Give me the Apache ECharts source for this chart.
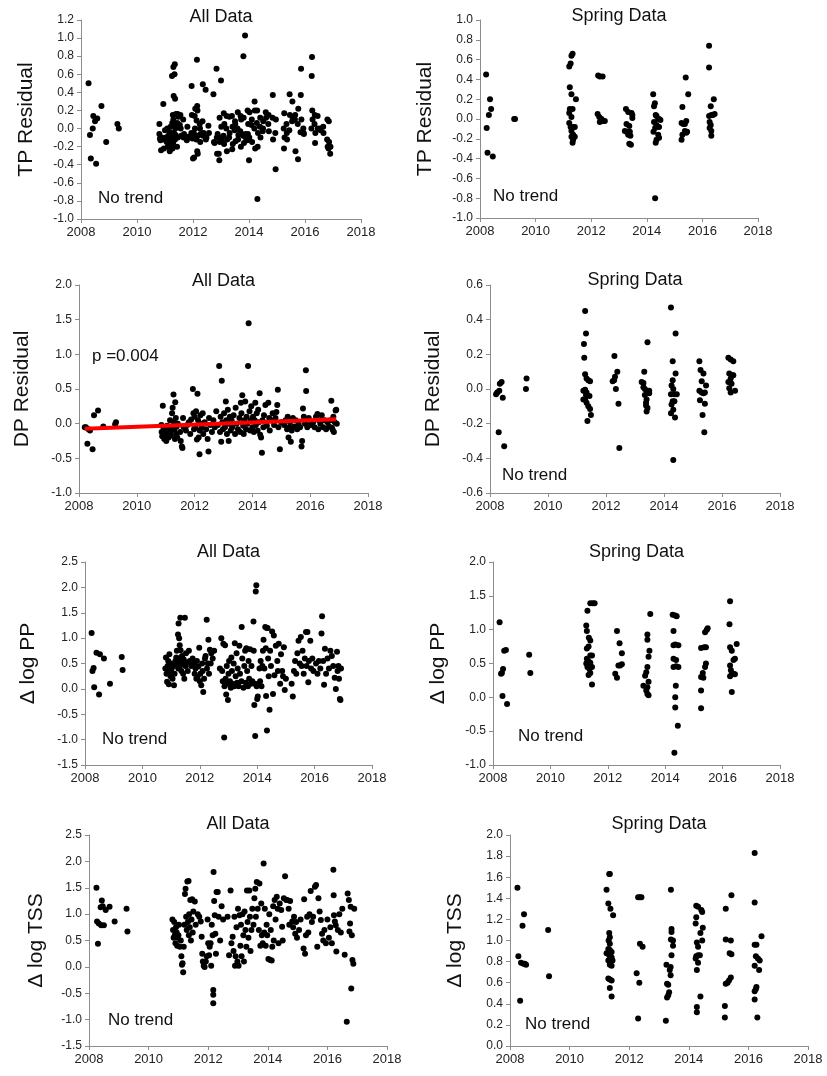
<!DOCTYPE html>
<html>
<head>
<meta charset="utf-8">
<title>Residual trends</title>
<script src="https://cdn.jsdelivr.net/npm/echarts@6/dist/echarts.min.js"></script>
<style>
html, body {margin: 0; padding: 0; background: #fff;}
#chart {width: 827px; height: 1076px;}
</style>
</head>
<body>
<div id="chart"></div>
<script>
// sample date (decimal year), value
var tpAll = [
[2008.27,0.50],[2008.32,-0.07],[2008.35,-0.33],[2008.42,0.00],[2008.44,0.14],[2008.50,0.08],[2008.58,0.11],[2008.54,-0.39],[2008.73,0.25],[2008.90,-0.15],[2009.30,0.05],[2009.35,0.00],
[2010.80,0.05],[2010.80,-0.06],[2010.82,-0.11],[2010.84,-0.13],[2010.86,-0.24],[2010.88,-0.10],[2010.94,0.27],[2010.96,-0.22],[2010.97,-0.12],[2011.00,-0.02],
[2011.04,-0.10],[2011.06,-0.15],[2011.08,0.00],[2011.10,-0.20],[2011.12,-0.08],[2011.15,-0.14],[2011.17,-0.25],[2011.18,-0.04],[2011.20,0.02],[2011.22,-0.18],
[2011.25,0.58],[2011.26,0.06],[2011.24,-0.10],[2011.27,-0.22],[2011.28,0.15],[2011.26,-0.12],
[2011.30,0.68],[2011.31,0.36],[2011.30,0.10],[2011.32,-0.05],[2011.29,-0.16],[2011.33,0.04],
[2011.35,0.71],[2011.34,0.60],[2011.36,0.33],[2011.37,0.00],[2011.36,-0.12],[2011.38,-0.07],[2011.39,0.16],
[2011.45,0.16],[2011.44,0.06],[2011.46,-0.10],[2011.43,-0.20],[2011.48,0.13],
[2011.55,0.15],[2011.56,0.00],[2011.58,-0.08],[2011.53,0.04],
[2011.65,0.10],[2011.66,-0.10],[2011.68,-0.06],
[2011.78,-0.13],[2011.80,0.02],[2011.83,-0.09],[2011.85,-0.10],
[2011.95,0.47],[2011.96,0.15],[2011.94,-0.05],[2011.98,-0.11],[2012.00,-0.33],
[2012.04,-0.32],[2012.05,-0.10],[2012.06,0.14],[2012.07,0.00],[2012.03,-0.05],[2012.08,0.22],
[2012.14,0.76],[2012.15,0.25],[2012.16,0.20],[2012.15,-0.25],[2012.17,-0.28],[2012.13,0.09],[2012.18,-0.08],[2012.12,-0.12],
[2012.24,0.05],[2012.25,0.00],[2012.26,-0.15],[2012.27,-0.06],
[2012.35,0.49],[2012.34,0.08],[2012.36,-0.08],[2012.38,-0.05],
[2012.45,0.43],[2012.46,-0.12],[2012.48,-0.10],
[2012.55,0.03],[2012.57,-0.05],
[2012.73,0.38],[2012.75,-0.15],[2012.77,-0.16],
[2012.84,0.66],[2012.85,-0.10],[2012.86,-0.28],[2012.88,-0.06],
[2012.94,-0.35],[2012.95,0.12],[2012.96,-0.15],[2012.92,-0.28],
[2013.00,0.53],[2013.01,0.02],[2013.02,-0.10],[2013.03,-0.13],
[2013.10,0.17],[2013.11,-0.17],[2013.12,0.05],[2013.09,-0.08],
[2013.20,0.14],[2013.21,-0.25],[2013.22,-0.12],[2013.19,0.00],
[2013.30,0.13],[2013.31,-0.05],[2013.29,-0.10],
[2013.40,-0.23],[2013.41,0.02],[2013.39,0.14],[2013.42,-0.17],
[2013.50,0.08],[2013.51,0.05],[2013.49,-0.02],[2013.52,-0.14],
[2013.60,0.18],[2013.61,-0.12],[2013.59,0.00],[2013.62,-0.07],
[2013.70,0.14],[2013.71,-0.20],[2013.69,-0.03],[2013.72,0.10],
[2013.80,0.80],[2013.81,0.12],[2013.79,-0.08],[2013.82,-0.16],
[2013.86,1.03],[2013.87,-0.06],[2013.88,-0.10],
[2013.95,0.20],[2013.96,-0.06],[2013.94,-0.13],[2013.97,0.05],
[2014.00,-0.35],[2014.01,-0.10],[2014.02,0.18],
[2014.10,0.10],[2014.11,-0.15],[2014.09,0.04],
[2014.20,0.30],[2014.21,0.20],[2014.19,0.00],[2014.22,-0.22],
[2014.30,-0.78],[2014.29,0.20],[2014.31,-0.20],[2014.28,0.06],[2014.32,-0.05],
[2014.40,0.12],[2014.41,-0.10],[2014.39,0.02],
[2014.50,0.00],[2014.51,0.08],[2014.49,-0.03],
[2014.60,0.18],[2014.61,0.12],
[2014.70,0.15],[2014.71,-0.03],[2014.69,0.05],
[2014.85,0.37],[2014.86,-0.12],[2014.84,0.12],
[2014.95,-0.45],[2014.96,0.10],[2014.94,-0.05],
[2015.25,-0.22],[2015.26,0.17],[2015.24,0.00],[2015.27,-0.10],
[2015.35,-0.05],[2015.36,-0.12],[2015.34,0.05],
[2015.45,0.38],[2015.46,0.15],[2015.44,-0.02],
[2015.55,0.30],[2015.56,0.12],[2015.54,0.08],
[2015.65,0.15],[2015.66,-0.25],[2015.64,0.10],
[2015.75,-0.34],[2015.76,0.22],[2015.74,0.05],
[2015.85,0.37],[2015.86,0.66],[2015.84,-0.04],[2015.87,0.10],
[2015.95,-0.05],[2015.96,-0.06],[2015.94,0.00],
[2016.25,0.79],[2016.24,0.58],[2016.26,0.20],[2016.23,0.00],[2016.27,0.10],
[2016.35,0.15],[2016.36,-0.16],[2016.34,0.05],[2016.37,-0.05],
[2016.45,0.14],[2016.46,0.00],
[2016.55,0.00],[2016.56,-0.02],
[2016.65,0.02],[2016.66,-0.05],
[2016.80,0.10],[2016.79,-0.12],[2016.81,-0.20],
[2016.85,0.08],[2016.86,-0.15],[2016.84,-0.22],
[2016.90,-0.28],[2016.91,-0.20]
];

var tpSpring = [
[2008.22,0.45],[2008.24,-0.09],[2008.27,-0.34],[2008.32,0.04],[2008.36,0.20],[2008.40,0.10],[2008.46,-0.38],[2009.23,0.00],[2009.26,0.00],
[2011.21,0.53],[2011.26,0.56],[2011.29,0.64],[2011.33,0.66],[2011.23,0.32],[2011.29,0.25],[2011.45,0.20],[2011.23,0.10],[2011.33,0.10],[2011.21,0.06],[2011.29,0.02],[2011.21,-0.04],[2011.26,-0.08],[2011.35,-0.08],[2011.41,-0.08],[2011.29,-0.12],[2011.35,-0.16],[2011.29,-0.18],[2011.35,-0.21],[2011.33,-0.24],[2011.41,-0.18],
[2012.25,0.44],[2012.31,0.43],[2012.41,0.43],[2012.23,0.05],[2012.29,0.02],[2012.31,-0.03],[2012.37,0.00],[2012.43,-0.02],[2012.49,-0.02],
[2013.25,0.10],[2013.33,0.07],[2013.45,0.06],[2013.48,0.04],[2013.21,-0.12],[2013.27,-0.05],[2013.37,-0.07],[2013.39,-0.13],[2013.33,-0.16],[2013.41,-0.17],[2013.37,-0.25],[2013.43,-0.26],[2013.27,-0.13],[2013.48,0.01],
[2014.23,0.25],[2014.29,0.16],[2014.26,0.13],[2014.32,0.04],[2014.35,0.03],[2014.41,0.00],[2014.44,0.00],[2014.26,-0.03],[2014.35,-0.06],[2014.30,-0.09],[2014.24,-0.13],[2014.44,-0.08],[2014.41,-0.16],[2014.44,-0.19],[2014.35,-0.21],[2014.32,-0.24],[2014.30,-0.80],[2014.49,-0.01],
[2015.28,0.12],[2015.40,0.42],[2015.49,0.25],[2015.25,-0.04],[2015.31,-0.05],[2015.37,-0.05],[2015.42,-0.02],[2015.37,-0.12],[2015.45,-0.13],[2015.28,-0.16],[2015.42,-0.14],[2015.25,-0.21],
[2016.24,0.74],[2016.24,0.52],[2016.30,0.13],[2016.41,0.20],[2016.24,0.03],[2016.32,0.04],[2016.38,0.04],[2016.44,0.05],[2016.26,-0.03],[2016.30,-0.06],[2016.26,-0.09],[2016.32,-0.12],[2016.32,-0.17]
];

var dpAll = [
[2008.20,-0.05],[2008.24,-0.05],[2008.29,-0.29],[2008.33,-0.08],[2008.38,-0.10],[2008.47,-0.37],[2008.52,0.12],[2008.66,0.19],[2008.84,-0.04],[2009.25,-0.01],[2009.28,0.02],
[2010.85,-0.02],[2010.86,-0.12],[2010.88,-0.18],[2010.90,0.26],[2010.92,-0.05],[2010.95,-0.22],[2010.97,-0.08],[2011.00,-0.15],[2011.02,-0.25],[2011.05,-0.03],[2011.07,-0.12],[2011.10,-0.20],[2011.12,-0.06],[2011.15,0.05],
[2011.18,-0.17],[2011.20,-0.10],[2011.22,0.15],[2011.24,0.23],[2011.27,0.42],[2011.28,0.02],[2011.30,-0.08],[2011.32,-0.22],[2011.33,0.31],[2011.35,0.08],[2011.36,-0.15],[2011.38,-0.04],[2011.40,-0.20],[2011.42,0.00],
[2011.50,-0.12],[2011.52,-0.25],[2011.56,-0.33],[2011.58,-0.35],[2011.60,0.08],[2011.62,-0.05],[2011.70,-0.10],[2011.75,-0.02],[2011.80,0.02],[2011.85,-0.15],[2011.88,0.06],
[2011.94,0.50],[2011.96,0.15],[2011.98,-0.08],[2012.00,0.10],[2012.03,-0.05],[2012.05,0.18],[2012.08,-0.23],[2012.10,0.43],[2012.12,0.05],[2012.14,-0.20],[2012.17,-0.44],[2012.18,-0.10],[2012.20,0.12],[2012.22,0.00],[2012.25,-0.06],[2012.28,0.15],[2012.30,-0.15],[2012.35,0.02],
[2012.40,-0.08],[2012.45,-0.22],[2012.48,-0.40],[2012.50,0.08],[2012.55,-0.02],[2012.60,-0.12],[2012.65,0.05],[2012.70,-0.05],[2012.75,0.18],
[2012.80,-0.02],[2012.85,0.83],[2012.88,-0.12],[2012.90,0.10],[2012.92,-0.26],[2012.94,0.62],[2012.96,0.02],[2012.98,-0.08],[2013.02,0.15],[2013.05,-0.05],[2013.08,0.32],[2013.10,0.05],[2013.12,-0.15],[2013.15,0.20],[2013.18,-0.25],[2013.20,0.00],[2013.22,0.10],[2013.25,-0.10],[2013.28,0.05],
[2013.30,-0.05],[2013.35,0.12],[2013.40,-0.15],[2013.42,0.23],[2013.45,0.00],[2013.50,-0.08],[2013.55,0.08],[2013.58,-0.12],[2013.60,0.30],[2013.62,0.15],[2013.65,0.41],[2013.68,-0.03],[2013.70,-0.15],[2013.72,0.05],[2013.75,0.32],[2013.78,-0.08],
[2013.80,0.10],[2013.82,0.00],[2013.85,0.83],[2013.87,1.45],[2013.90,0.18],[2013.92,-0.10],[2013.94,0.05],[2013.96,0.25],[2014.00,-0.05],[2014.02,0.10],[2014.05,-0.12],[2014.08,0.05],[2014.10,0.30],[2014.12,-0.02],
[2014.15,0.15],[2014.18,-0.10],[2014.20,0.20],[2014.22,0.02],[2014.25,0.44],[2014.27,-0.16],[2014.30,-0.20],[2014.33,-0.42],[2014.35,0.05],[2014.38,-0.05],[2014.40,0.12],[2014.45,0.27],[2014.50,-0.03],[2014.55,0.30],[2014.58,0.08],[2014.60,-0.10],[2014.65,0.05],
[2014.70,0.15],[2014.75,-0.02],[2014.80,0.08],[2014.83,0.17],[2014.86,0.27],[2014.88,0.49],[2014.90,-0.05],[2014.95,-0.37],[2015.00,0.02],
[2015.10,-0.02],[2015.15,0.05],[2015.20,-0.08],[2015.22,0.10],[2015.25,-0.20],[2015.28,-0.05],[2015.30,0.02],[2015.33,-0.26],[2015.36,-0.10],[2015.40,0.08],[2015.45,-0.04],[2015.50,0.05],[2015.55,-0.08],[2015.60,0.00],
[2015.65,-0.05],[2015.70,-0.33],[2015.72,-0.25],[2015.75,0.22],[2015.78,0.10],[2015.82,0.00],[2015.85,0.77],[2015.86,0.47],[2015.88,0.05],[2015.90,-0.05],[2015.95,0.08],[2016.00,-0.02],
[2016.10,0.02],[2016.15,-0.05],[2016.20,0.10],[2016.25,0.14],[2016.28,-0.08],[2016.30,0.05],[2016.35,0.00],[2016.40,0.12],[2016.45,-0.05],[2016.50,0.05],[2016.55,-0.08],[2016.60,0.02],[2016.65,-0.04],
[2016.70,0.05],[2016.73,0.33],[2016.75,-0.06],[2016.78,-0.09],[2016.80,0.10],[2016.82,-0.12],[2016.85,0.02],[2016.88,0.19],[2016.90,0.20],[2016.92,0.00]
];

// fitted trend for DP, end points only
var dpTrend = [[2008.2,-0.075],[2016.9,0.065]];

var dpSpring = [
[2008.21,-0.03],[2008.25,-0.02],[2008.32,-0.01],[2008.34,0.03],[2008.40,0.04],[2008.44,-0.05],[2008.30,-0.25],[2008.49,-0.33],
[2009.26,0.06],[2009.24,0.00],
[2011.28,0.45],[2011.31,0.32],[2011.24,0.26],[2011.25,0.18],[2011.28,0.085],[2011.33,0.06],[2011.39,0.05],[2011.45,0.045],[2011.22,-0.01],[2011.28,-0.005],[2011.33,-0.02],[2011.31,-0.035],[2011.22,-0.06],[2011.28,-0.06],[2011.33,-0.08],[2011.39,-0.10],[2011.45,-0.115],[2011.36,-0.185],[2011.48,-0.15],[2011.43,-0.04],
[2012.29,0.19],[2012.23,0.045],[2012.28,0.05],[2012.31,0.07],[2012.39,0.10],[2012.34,0.00],[2012.43,-0.085],[2012.46,-0.34],
[2013.32,0.10],[2013.43,0.27],[2013.23,0.04],[2013.29,0.035],[2013.34,0.00],[2013.40,-0.01],[2013.46,-0.02],[2013.49,-0.01],[2013.29,0.01],[2013.34,-0.035],[2013.40,-0.06],[2013.38,-0.08],[2013.43,-0.11],[2013.40,-0.13],[2013.49,-0.025],[2013.38,-0.095],
[2014.24,0.47],[2014.40,0.32],[2014.30,0.16],[2014.40,0.09],[2014.30,0.05],[2014.26,0.02],[2014.32,0.00],[2014.24,-0.03],[2014.36,-0.03],[2014.44,-0.03],[2014.30,-0.07],[2014.36,-0.07],[2014.26,-0.09],[2014.32,-0.12],[2014.24,-0.14],[2014.38,-0.165],[2014.32,-0.41],
[2015.22,0.16],[2015.26,0.11],[2015.36,0.09],[2015.30,0.045],[2015.45,0.02],[2015.22,-0.01],[2015.36,-0.025],[2015.41,-0.02],[2015.24,-0.065],[2015.41,-0.085],[2015.33,-0.15],[2015.39,-0.25],[2015.30,-0.02],
[2016.22,0.18],[2016.30,0.17],[2016.39,0.16],[2016.25,0.09],[2016.37,0.08],[2016.30,0.06],[2016.22,0.04],[2016.33,0.03],[2016.25,0.005],[2016.30,-0.02],[2016.45,-0.01],[2016.39,0.08]
];

var ppAll = [
[2008.23,1.10],[2008.26,0.35],[2008.30,0.41],[2008.32,0.03],[2008.40,0.71],[2008.49,-0.11],[2008.52,0.68],[2008.66,0.60],[2008.87,0.10],[2009.28,0.63],[2009.31,0.37],
[2010.80,0.40],[2010.82,0.62],[2010.84,0.30],[2010.86,0.14],[2010.88,0.45],[2010.90,0.55],[2010.92,0.09],[2010.94,0.68],[2010.96,0.35],[2010.98,0.25],[2011.00,0.50],[2011.02,0.40],[2011.05,0.20],[2011.08,0.45],[2011.10,0.07],[2011.12,0.30],[2011.15,0.55],[2011.18,0.62],
[2011.20,0.75],[2011.22,0.50],[2011.24,1.07],[2011.25,0.40],[2011.26,1.29],[2011.27,0.60],[2011.28,1.00],[2011.30,0.86],[2011.31,0.45],[2011.32,1.40],[2011.33,0.76],[2011.35,0.55],[2011.36,0.35],[2011.38,0.65],[2011.40,0.50],[2011.42,0.30],[2011.44,0.58],[2011.46,0.20],[2011.48,1.40],[2011.50,0.45],[2011.52,0.70],[2011.55,0.52],[2011.58,0.35],
[2011.62,0.75],[2011.65,0.55],[2011.70,0.45],[2011.75,0.60],[2011.80,0.50],[2011.82,0.30],[2011.85,0.40],[2011.88,0.20],[2011.90,0.55],[2011.92,0.24],[2011.95,0.44],[2011.98,0.81],[2012.00,0.15],
[2012.02,0.30],[2012.05,0.07],[2012.08,0.50],[2012.10,0.35],[2012.12,-0.06],[2012.15,0.20],[2012.18,0.60],[2012.20,0.65],[2012.24,1.36],[2012.25,0.40],[2012.28,0.50],[2012.30,0.97],[2012.32,0.30],[2012.35,0.77],[2012.38,0.50],[2012.40,0.70],[2012.45,0.60],[2012.50,0.75],
[2012.70,0.40],[2012.75,1.00],[2012.78,0.35],[2012.80,0.15],[2012.82,0.89],[2012.85,-0.96],[2012.86,0.05],[2012.88,0.86],[2012.90,0.20],[2012.92,-0.11],[2012.94,0.45],[2012.96,0.10],[2012.98,-0.22],[2013.00,0.30],
[2013.02,0.55],[2013.05,0.15],[2013.08,0.02],[2013.10,0.62],[2013.12,0.35],[2013.15,0.10],[2013.18,0.50],[2013.20,0.05],[2013.22,0.90],[2013.25,0.25],[2013.28,0.70],[2013.30,0.12],[2013.32,0.40],[2013.35,0.05],[2013.38,0.85],[2013.40,0.30],[2013.45,0.15],[2013.46,1.22],[2013.48,0.60],
[2013.52,0.02],[2013.55,0.45],[2013.58,0.75],[2013.60,0.12],[2013.62,0.80],[2013.65,0.35],[2013.68,0.05],[2013.70,0.55],[2013.72,0.20],[2013.75,0.78],[2013.78,0.10],[2013.80,0.45],[2013.83,0.15],[2013.87,1.33],[2013.88,0.75],[2013.90,-0.32],[2013.92,0.10],[2013.93,-0.93],[2013.95,1.92],[2013.97,2.04],[2013.98,0.05],
[2014.00,-0.20],[2014.02,-0.15],[2014.05,0.10],[2014.08,0.40],[2014.10,0.15],[2014.12,0.55],[2014.15,0.05],[2014.18,0.45],[2014.20,0.75],[2014.22,0.97],[2014.25,0.40],[2014.28,1.22],[2014.30,0.80],[2014.31,-0.14],[2014.33,1.20],[2014.34,-0.82],[2014.36,1.20],[2014.38,0.60],[2014.40,0.25],[2014.43,-0.41],[2014.45,0.75],[2014.48,0.45],[2014.52,1.13],[2014.55,-0.10],[2014.58,1.05],[2014.60,0.27],
[2014.65,0.85],[2014.70,0.55],[2014.72,0.35],[2014.75,0.89],[2014.80,0.10],[2014.83,0.68],[2014.87,0.35],[2014.90,0.25],[2014.93,0.82],[2014.96,-0.02],[2015.00,0.20],
[2015.20,0.10],[2015.24,-0.15],[2015.28,0.35],[2015.32,0.55],[2015.36,0.30],[2015.40,0.70],[2015.44,0.95],[2015.48,0.50],[2015.52,1.02],[2015.55,0.45],[2015.58,0.75],[2015.62,0.30],[2015.66,0.60],[2015.70,1.12],[2015.72,0.45],[2015.75,1.12],[2015.78,0.13],[2015.80,0.55],[2015.85,0.95],[2015.88,0.40],[2015.92,0.60],[2015.96,0.35],
[2016.05,0.50],[2016.10,0.30],[2016.15,0.55],[2016.20,0.40],[2016.24,1.09],[2016.26,1.43],[2016.30,0.55],[2016.33,0.08],[2016.36,0.79],[2016.40,0.30],[2016.45,0.60],[2016.50,0.40],[2016.55,0.75],[2016.60,0.65],[2016.65,0.45],[2016.70,0.22],[2016.74,0.00],[2016.78,0.73],[2016.80,0.35],[2016.83,0.45],[2016.85,0.20],[2016.88,-0.20],[2016.90,-0.22],[2016.92,0.40]
];

var ppSpring = [
[2008.23,1.11],[2008.28,0.35],[2008.31,0.36],[2008.35,0.42],[2008.39,0.69],[2008.45,0.70],[2008.33,0.02],[2008.49,-0.10],[2009.26,0.63],[2009.30,0.36],
[2011.29,1.28],[2011.39,1.39],[2011.48,1.39],[2011.54,1.39],[2011.25,1.06],[2011.27,0.98],[2011.34,0.88],[2011.39,0.84],[2011.33,0.75],[2011.27,0.72],[2011.39,0.62],[2011.45,0.62],[2011.27,0.57],[2011.33,0.53],[2011.39,0.51],[2011.25,0.50],[2011.29,0.45],[2011.36,0.42],[2011.45,0.45],[2011.39,0.36],[2011.33,0.33],[2011.45,0.19],
[2012.32,0.98],[2012.41,0.80],[2012.49,0.65],[2012.26,0.35],[2012.32,0.29],[2012.37,0.47],[2012.43,0.47],[2012.49,0.49],
[2013.38,0.93],[2013.38,0.85],[2013.48,1.23],[2013.24,0.17],[2013.30,0.32],[2013.34,0.37],[2013.38,0.45],[2013.45,0.69],[2013.42,0.60],[2013.42,0.23],[2013.38,0.15],[2013.34,0.10],[2013.38,0.05],[2013.42,0.03],
[2014.26,1.22],[2014.35,1.21],[2014.40,1.20],[2014.29,0.98],[2014.29,0.77],[2014.35,0.78],[2014.46,0.77],[2014.29,0.57],[2014.38,0.55],[2014.29,0.45],[2014.38,0.46],[2014.46,0.45],[2014.37,0.17],[2014.35,0.00],[2014.35,-0.15],[2014.44,-0.42],[2014.32,-0.82],
[2015.25,0.73],[2015.36,0.74],[2015.42,0.74],[2015.39,0.96],[2015.45,1.00],[2015.48,1.02],[2015.42,0.50],[2015.39,0.45],[2015.31,0.36],[2015.25,0.30],[2015.33,0.29],[2015.25,0.10],[2015.25,-0.16],
[2016.26,1.42],[2016.24,1.08],[2016.26,0.74],[2016.32,0.69],[2016.49,0.79],[2016.38,0.55],[2016.43,0.57],[2016.26,0.47],[2016.29,0.40],[2016.32,0.34],[2016.38,0.35],[2016.43,0.34],[2016.26,0.31],[2016.32,0.08]
];

var tssAll = [
[2008.25,1.50],[2008.27,0.86],[2008.30,0.44],[2008.33,0.82],[2008.39,1.13],[2008.43,1.26],[2008.46,1.15],[2008.41,0.79],[2008.50,0.79],[2008.56,1.08],[2008.69,1.14],[2008.86,0.86],[2009.26,1.10],[2009.29,0.67],
[2010.80,0.90],[2010.82,0.70],[2010.84,0.55],[2010.86,0.85],[2010.88,0.60],[2010.90,0.45],[2010.92,0.75],[2010.94,0.65],[2010.96,0.40],[2010.98,0.55],[2011.00,0.60],[2011.02,0.80],[2011.05,0.38],[2011.08,0.50],[2011.10,0.20],[2011.12,0.04],[2011.14,0.07],[2011.16,-0.10],[2011.18,0.38],
[2011.20,0.80],[2011.22,1.38],[2011.24,1.48],[2011.26,0.95],[2011.28,0.70],[2011.30,1.62],[2011.32,0.85],[2011.34,1.63],[2011.35,0.60],[2011.36,1.00],[2011.38,0.75],[2011.40,1.27],[2011.42,0.50],[2011.44,0.90],[2011.46,1.28],[2011.48,0.65],[2011.50,1.05],[2011.55,1.24],[2011.58,0.80],
[2011.65,1.00],[2011.70,0.95],[2011.75,0.86],[2011.78,0.57],[2011.80,0.25],[2011.82,0.10],[2011.85,0.02],[2011.88,0.00],[2011.92,0.10],[2011.95,0.20],[2011.98,0.90],[2012.00,0.45],
[2012.03,0.22],[2012.05,0.38],[2012.08,0.45],[2012.10,0.02],[2012.12,0.80],[2012.15,0.60],[2012.17,-0.44],[2012.17,-0.53],[2012.17,-0.69],[2012.18,1.80],[2012.20,1.25],[2012.22,0.98],[2012.24,0.63],[2012.26,0.25],[2012.28,1.42],[2012.32,1.42],[2012.35,0.95],[2012.40,0.50],[2012.45,1.15],[2012.50,0.90],
[2012.65,0.95],[2012.70,0.22],[2012.75,1.45],[2012.78,0.45],[2012.82,0.57],[2012.85,0.30],[2012.88,0.95],[2012.90,0.02],[2012.92,0.20],[2012.95,0.75],[2012.98,0.10],[2013.00,1.10],
[2013.02,0.02],[2013.05,0.98],[2013.08,0.40],[2013.10,0.80],[2013.12,0.20],[2013.15,1.00],[2013.18,0.60],[2013.20,0.10],[2013.22,1.05],[2013.25,0.70],[2013.28,0.38],[2013.30,1.45],[2013.32,0.85],[2013.35,0.55],[2013.38,1.45],[2013.40,0.95],[2013.42,0.30],[2013.45,0.70],[2013.48,1.10],
[2013.52,0.80],[2013.55,1.30],[2013.58,1.48],[2013.60,0.95],[2013.63,1.61],[2013.66,1.10],[2013.70,0.70],[2013.72,1.58],[2013.75,0.40],[2013.78,1.20],[2013.80,0.60],[2013.83,0.45],[2013.86,1.96],[2013.88,0.65],[2013.90,1.10],[2013.93,0.40],[2013.96,0.80],[2013.98,0.60],
[2014.02,0.15],[2014.05,1.00],[2014.08,0.13],[2014.10,0.70],[2014.13,0.12],[2014.15,0.38],[2014.18,1.15],[2014.20,0.50],[2014.23,1.27],[2014.26,0.90],[2014.30,1.33],[2014.33,1.10],[2014.36,0.45],[2014.40,1.20],[2014.45,1.08],[2014.48,0.76],[2014.50,0.50],[2014.54,1.30],[2014.58,1.72],[2014.62,1.27],[2014.65,1.27],[2014.70,1.10],[2014.72,0.80],[2014.75,1.25],
[2014.82,0.86],[2014.85,0.75],[2014.88,0.95],[2014.92,0.63],[2014.95,0.85],[2014.98,0.55],[2015.05,0.70],[2015.10,0.90],
[2015.20,0.35],[2015.22,1.28],[2015.25,0.25],[2015.28,0.60],[2015.32,0.95],[2015.36,0.65],[2015.40,1.00],[2015.44,1.44],[2015.48,0.85],[2015.52,0.95],[2015.58,1.52],[2015.62,1.55],[2015.66,0.38],[2015.70,1.30],[2015.74,1.05],[2015.78,0.89],[2015.82,0.63],[2015.86,0.50],[2015.90,0.70],[2015.95,0.45],[2016.00,0.90],
[2016.05,0.55],[2016.10,0.75],[2016.15,0.45],[2016.20,1.84],[2016.21,1.36],[2016.22,0.98],[2016.25,0.86],[2016.28,0.79],[2016.30,0.29],[2016.35,0.70],[2016.40,1.00],[2016.45,0.65],[2016.50,1.10],[2016.58,0.23],[2016.65,-1.04],[2016.68,1.39],[2016.72,1.27],[2016.74,0.67],[2016.76,0.82],[2016.78,1.14],[2016.80,-0.41],[2016.82,0.60],[2016.84,0.13],[2016.87,0.06],[2016.90,1.10]
];

var tssSpring = [
[2008.25,1.50],[2008.28,0.85],[2008.34,0.43],[2008.37,0.79],[2008.42,1.14],[2008.47,1.25],[2008.45,0.78],[2008.50,0.78],[2008.54,0.77],[2009.28,1.10],[2009.31,0.66],
[2011.33,1.63],[2011.35,1.63],[2011.24,1.48],[2011.30,1.35],[2011.37,1.30],[2011.46,1.24],[2011.33,1.07],[2011.35,1.03],[2011.31,1.00],[2011.35,0.97],[2011.30,0.92],[2011.35,0.91],[2011.41,0.89],[2011.24,0.88],[2011.33,0.86],[2011.37,0.85],[2011.41,0.84],[2011.30,0.81],[2011.35,0.80],[2011.44,0.81],[2011.35,0.77],[2011.41,0.76],[2011.30,0.64],[2011.35,0.63],[2011.41,0.62],[2011.35,0.55],[2011.41,0.47],
[2012.30,1.41],[2012.36,1.41],[2012.41,1.41],[2012.25,0.69],[2012.34,0.60],[2012.36,0.97],[2012.45,0.94],[2012.30,0.26],
[2013.40,1.48],[2013.25,0.77],[2013.27,0.59],[2013.31,0.58],[2013.31,0.48],[2013.27,0.46],[2013.34,0.51],[2013.39,0.75],[2013.36,0.72],[2013.39,0.67],[2013.42,0.86],[2013.42,1.11],[2013.42,1.08],[2013.40,1.01],[2013.47,1.00],[2013.47,0.95],[2013.23,0.24],
[2014.25,1.33],[2014.31,1.32],[2014.42,1.29],[2014.45,1.27],[2014.25,1.22],[2014.23,1.16],[2014.47,1.12],[2014.39,1.07],[2014.45,1.00],[2014.27,0.98],[2014.31,0.94],[2014.25,0.85],[2014.31,0.86],[2014.37,0.86],[2014.23,0.83],[2014.31,0.79],[2014.27,0.72],[2014.39,0.47],[2014.27,0.37],[2014.27,0.32],
[2015.24,1.30],[2015.43,1.43],[2015.24,1.01],[2015.41,1.00],[2015.37,0.88],[2015.43,0.87],[2015.41,0.65],[2015.35,0.62],[2015.30,0.60],[2015.24,0.59],[2015.21,0.38],[2015.21,0.27],
[2016.21,1.83],[2016.21,1.36],[2016.21,0.96],[2016.27,0.96],[2016.25,0.85],[2016.32,0.83],[2016.38,0.81],[2016.21,0.76],[2016.44,1.04],[2016.36,0.72],[2016.27,0.56],[2016.25,0.54],[2016.21,0.52],[2016.21,0.44],[2016.30,0.27]
];

var yearRange = [2008, 2018, 2];

// one entry per panel, left to right then top to bottom
var panels = [
    {data: tpAll, title: 'All Data', yName: 'TP Residual', y: [-1.0, 1.2, 0.2], note: 'No trend'},
    {data: tpSpring, title: 'Spring Data', yName: 'TP Residual', y: [-1.0, 1.0, 0.2], note: 'No trend'},
    {data: dpAll, title: 'All Data', yName: 'DP Residual', y: [-1.0, 2.0, 0.5], note: 'p =0.004', trend: dpTrend},
    {data: dpSpring, title: 'Spring Data', yName: 'DP Residual', y: [-0.6, 0.6, 0.2], note: 'No trend'},
    {data: ppAll, title: 'All Data', yName: 'Δ log PP', y: [-1.5, 2.5, 0.5], note: 'No trend'},
    {data: ppSpring, title: 'Spring Data', yName: 'Δ log PP', y: [-1.0, 2.0, 0.5], note: 'No trend'},
    {data: tssAll, title: 'All Data', yName: 'Δ log TSS', y: [-1.5, 2.5, 0.5], note: 'No trend'},
    {data: tssSpring, title: 'Spring Data', yName: 'Δ log TSS', y: [0.0, 2.0, 0.2], note: 'No trend'}
];

// layout (pixels): plot box, title top, y-name gap, note position
var boxes = [
    [81, 20, 280, 199], [480, 20, 278, 198],
    [79, 285, 289, 208], [490, 285, 290, 208],
    [85, 562, 287, 203], [493, 562, 287, 203],
    [89, 835, 298, 211], [510, 835, 298, 211]
];
var titleTops = [8, 7, 272, 271, 543, 543, 815, 815];
var nameGaps = [44, 44, 46, 46, 46, 44, 42, 44];
var notePos = [[98, 190], [493, 188], [92, 348], [502, 467], [102, 731], [518, 728], [108, 1012], [525, 1016]];

var FONT = '"Liberation Sans", Arial, sans-serif';
var axisGray = '#8c8c8c';

var option = {
    animation: false,
    backgroundColor: '#fff',
    textStyle: {fontFamily: FONT},
    title: [], grid: [], xAxis: [], yAxis: [], series: [], graphic: []
};

panels.forEach(function(p, i) {
    var b = boxes[i];
    option.grid.push({left: b[0], top: b[1], width: b[2], height: b[3], containLabel: false});
    option.title.push({
        text: p.title, left: b[0] + b[2] / 2, top: titleTops[i], textAlign: 'center', padding: 0,
        textStyle: {fontSize: 18, fontWeight: 'normal', color: '#111', fontFamily: FONT}
    });
    option.xAxis.push({
        type: 'value', gridIndex: i, min: yearRange[0], max: yearRange[1], interval: yearRange[2],
        axisLine: {onZero: false, lineStyle: {color: axisGray, width: 1}},
        axisTick: {show: true, length: 4, lineStyle: {color: axisGray}},
        axisLabel: {fontSize: 13, color: '#222', margin: 7, formatter: function(v) { return String(v); }},
        splitLine: {show: false}
    });
    option.yAxis.push({
        type: 'value', gridIndex: i, min: p.y[0], max: p.y[1], interval: p.y[2],
        name: p.yName, nameLocation: 'middle', nameRotate: 90, nameGap: nameGaps[i],
        nameTextStyle: {fontSize: 21, color: '#111', fontFamily: FONT},
        axisLine: {show: true, onZero: false, lineStyle: {color: axisGray, width: 1}},
        axisTick: {show: true, length: 4, lineStyle: {color: axisGray}},
        axisLabel: {fontSize: 12, color: '#222', margin: 7, formatter: function(v) { return v.toFixed(1); }},
        splitLine: {show: false}
    });
    if (p.trend) {
        option.series.push({
            type: 'line', xAxisIndex: i, yAxisIndex: i, data: p.trend,
            symbol: 'none', lineStyle: {color: '#ff0000', width: 4}, silent: true
        });
    }
    option.series.push({
        type: 'scatter', xAxisIndex: i, yAxisIndex: i, data: p.data,
        symbol: 'circle', symbolSize: 6, itemStyle: {color: '#000', opacity: 1}
    });
    option.graphic.push({
        type: 'text', left: notePos[i][0], top: notePos[i][1],
        style: {text: p.note, fontSize: 17, fill: '#111', fontFamily: FONT}
    });
});

var chart = echarts.init(document.getElementById('chart'), null, {renderer: 'canvas'});
chart.setOption(option);
</script>
</body>
</html>
